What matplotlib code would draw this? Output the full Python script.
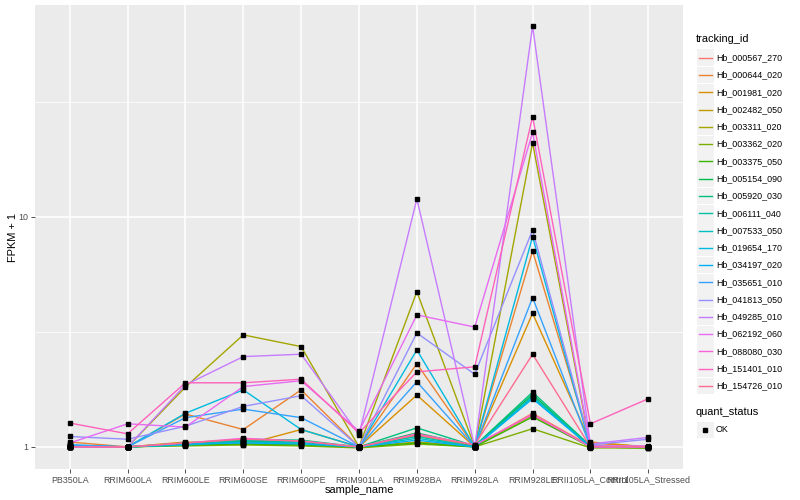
import matplotlib
matplotlib.use("Agg")
import matplotlib.pyplot as plt
from matplotlib.lines import Line2D
from matplotlib.patches import Rectangle
import numpy as np

plt.rcParams["font.family"] = ["Liberation Sans", "DejaVu Sans"]

# ── Data (FPKM + 1 per sample) ────────────────────────────────────────────────
samples = ["PB350LA", "RRIM600LA", "RRIM600LE", "RRIM600SE", "RRIM600PE",
           "RRIM901LA", "RRIM928BA", "RRIM928LA", "RRIM928LE",
           "RRII105LA_Control", "RRII105LA_Stressed"]

tracking_ids = ["Hb_000567_270", "Hb_000644_020", "Hb_001981_020", "Hb_002482_050",
                "Hb_003311_020", "Hb_003362_020", "Hb_003375_050", "Hb_005154_090",
                "Hb_005920_030", "Hb_006111_040", "Hb_007533_050", "Hb_019654_170",
                "Hb_034197_020", "Hb_035651_010", "Hb_041813_050", "Hb_049285_010",
                "Hb_062192_060", "Hb_088080_030", "Hb_151401_010", "Hb_154726_010"]

hb_000567_270 = [1.01, 1.00, 1.03, 1.05, 1.04, 1.00, 1.12, 1.01, 1.40, 1.01, 1.00]
hb_000644_020 = [1.05, 1.00, 1.39, 1.19, 1.77, 1.00, 2.30, 1.00, 7.11, 1.04, 1.00]
hb_001981_020 = [1.01, 1.00, 1.05, 1.02, 1.19, 1.00, 1.68, 1.00, 3.81, 1.05, 1.00]
hb_002482_050 = [1.00, 1.00, 1.02, 1.03, 1.02, 1.00, 1.05, 1.01, 1.37, 1.00, 0.99]
hb_003311_020 = [1.00, 1.00, 1.82, 3.07, 2.73, 1.00, 4.73, 1.00, 21.0, 1.00, 1.00]
hb_003362_020 = [1.00, 1.00, 1.01, 1.02, 1.01, 0.99, 1.03, 1.00, 1.20, 0.99, 0.99]
hb_003375_050 = [1.00, 1.00, 1.02, 1.03, 1.02, 1.00, 1.04, 1.00, 1.35, 1.00, 0.99]
hb_005154_090 = [1.01, 1.00, 1.03, 1.06, 1.05, 1.00, 1.15, 1.01, 1.69, 1.00, 1.00]
hb_005920_030 = [1.01, 1.00, 1.04, 1.08, 1.07, 1.00, 1.21, 1.01, 1.73, 1.01, 1.00]
hb_006111_040 = [1.00, 1.00, 1.02, 1.07, 1.05, 1.00, 1.11, 1.00, 1.66, 1.00, 1.00]
hb_007533_050 = [1.00, 1.00, 1.02, 1.05, 1.04, 1.00, 1.09, 1.00, 1.64, 1.00, 1.00]
hb_019654_170 = [1.00, 1.00, 1.40, 1.77, 1.19, 1.00, 2.64, 1.00, 8.21, 1.00, 1.00]
hb_034197_020 = [1.02, 1.00, 1.03, 1.04, 1.03, 1.00, 1.07, 1.00, 1.62, 1.00, 1.00]
hb_035651_010 = [1.02, 1.00, 1.34, 1.46, 1.34, 1.00, 1.92, 1.00, 4.46, 1.00, 1.00]
hb_041813_050 = [1.11, 1.08, 1.23, 1.50, 1.67, 1.00, 3.13, 2.07, 8.78, 1.02, 1.08]
hb_049285_010 = [1.00, 1.00, 1.86, 2.47, 2.53, 1.13, 11.98, 1.00, 67.6, 1.03, 1.10]
hb_062192_060 = [1.04, 1.26, 1.22, 1.83, 1.94, 1.17, 3.75, 3.32, 23.3, 1.01, 1.01]
hb_088080_030 = [1.00, 1.00, 1.04, 1.09, 1.06, 1.00, 1.14, 1.02, 1.38, 1.00, 1.00]
hb_151401_010 = [1.27, 1.14, 1.90, 1.90, 1.97, 1.15, 2.12, 2.23, 27.3, 1.26, 1.62]
hb_154726_010 = [1.00, 1.00, 1.04, 1.08, 1.06, 1.00, 1.13, 1.02, 2.53, 1.00, 1.00]

series = [hb_000567_270, hb_000644_020, hb_001981_020, hb_002482_050, hb_003311_020,
          hb_003362_020, hb_003375_050, hb_005154_090, hb_005920_030, hb_006111_040,
          hb_007533_050, hb_019654_170, hb_034197_020, hb_035651_010, hb_041813_050,
          hb_049285_010, hb_062192_060, hb_088080_030, hb_151401_010, hb_154726_010]

# ggplot2 hue_pal()(20)
colors = ["#F8766D", "#EA8331", "#D89000", "#C09B00", "#A3A500", "#7CAE00", "#39B600",
          "#00BB4E", "#00BF7D", "#00C1A3", "#00BFC4", "#00BAE0", "#00B0F6", "#35A2FF",
          "#9590FF", "#C77CFF", "#E76BF3", "#FA62DB", "#FF62BC", "#FF6C91"]

# ── Style ─────────────────────────────────────────────────────────────────────
TICK_TXT = "#4D4D4D"
TICK_COL = "#333333"
PANEL = "#EBEBEB"
SZ_TEXT = 6.4
SZ_TITLE = 7.9

fig = plt.figure(figsize=(8, 5), dpi=100)
ax = fig.add_axes([35 / 800, 31 / 500, 648 / 800, 464 / 500])
ax.set_facecolor(PANEL)
for spine in ax.spines.values():
    spine.set_visible(False)

x = np.arange(1, len(samples) + 1)
for vals, col in zip(series, colors):
    ax.plot(x, vals, color=col, linewidth=1.0, zorder=3, solid_joinstyle="round")
for vals in series:
    ax.plot(x, vals, linestyle="none", marker="s", markersize=3.0,
            color="black", zorder=4)

ax.set_yscale("log")
all_vals = np.log10(np.concatenate([np.array(s) for s in series]))
lo, hi = all_vals.min(), all_vals.max()
pad = 0.05 * (hi - lo)
ax.set_ylim(10 ** (lo - pad), 10 ** (hi + pad))
ax.set_xlim(0.4, len(samples) + 0.6)

ax.set_yticks([1, 10])
ax.set_yticklabels(["1", "10"])
ax.set_yticks([10 ** 0.5, 10 ** 1.5], minor=True)
ax.yaxis.set_minor_formatter(matplotlib.ticker.NullFormatter())
ax.set_xticks(x)
ax.set_xticklabels(samples)

ax.grid(True, which="major", color="white", linewidth=1.1, zorder=0)
ax.grid(True, which="minor", axis="y", color="white", linewidth=0.55, zorder=0)
ax.set_axisbelow(True)
ax.tick_params(axis="both", which="major", length=2.75, width=0.6, color=TICK_COL,
               labelsize=SZ_TEXT, labelcolor=TICK_TXT, pad=2)
ax.tick_params(axis="y", which="minor", length=0)

ax.set_xlabel("sample_name", fontsize=SZ_TITLE, color="black", labelpad=0)
ax.set_ylabel("FPKM + 1", fontsize=SZ_TITLE, color="black", labelpad=1)
ax.yaxis.set_label_coords(-17 / 648, 0.5)

# ── Legends (drawn by hand, ggplot style) ─────────────────────────────────────
W, H = 800, 500
fig.text(696 / W, 1 - 39 / H, "tracking_id", fontsize=SZ_TITLE, va="center", ha="left")
step = 17.28
for i, (tid, col) in enumerate(zip(tracking_ids, colors)):
    yc = 57.7 + i * step
    fig.patches.append(Rectangle((697 / W, 1 - (yc + 8.4) / H), 16.8 / W, 16.8 / H,
                                 transform=fig.transFigure, facecolor="#F2F2F2",
                                 edgecolor="none"))
    fig.lines.append(Line2D([698.5 / W, 712 / W], [1 - yc / H, 1 - yc / H],
                            transform=fig.transFigure, color=col, linewidth=1.0))
    fig.text(716 / W, 1 - yc / H, tid, fontsize=SZ_TEXT, va="center", ha="left")

fig.text(696 / W, 1 - 412 / H, "quant_status", fontsize=SZ_TITLE, va="center", ha="left")
yc = 430
fig.patches.append(Rectangle((697 / W, 1 - (yc + 8.4) / H), 16.8 / W, 16.8 / H,
                             transform=fig.transFigure, facecolor="#F2F2F2",
                             edgecolor="none"))
fig.lines.append(Line2D([705 / W], [1 - yc / H], transform=fig.transFigure,
                        marker="s", markersize=3.0, color="black", linestyle="none"))
fig.text(716 / W, 1 - yc / H, "OK", fontsize=SZ_TEXT, va="center", ha="left")

fig.savefig("out.png", dpi=100, facecolor="white")
